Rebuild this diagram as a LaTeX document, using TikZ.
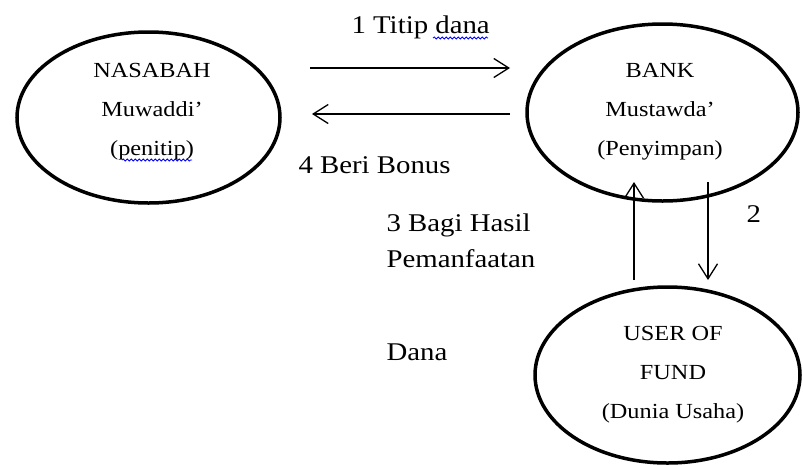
\documentclass[tikz,border=0pt]{standalone}
\usepackage{fontspec}
\setmainfont{Liberation Serif}[FakeStretch=1.13]
\usetikzlibrary{shapes.geometric, arrows.meta, decorations.pathmorphing}

\tikzset{
    party/.style={draw, ellipse, line width=3.5pt, inner sep=0pt},
    partytext/.style={align=center, font=\fontsize{21.5}{39}\selectfont},
    flowtext/.style={anchor=base west, font=\fontsize{25.5}{30}\selectfont},
    flow/.style={-{Straight Barb[length=15pt, width=19pt]}, line width=1.3pt},
    spell/.style={blue, line width=0.8pt, decorate,
        decoration={snake, amplitude=1pt, segment length=4pt}}
}

\begin{document}
\begin{tikzpicture}[x=1pt, y=-1pt]
    \useasboundingbox (0 , 0) rectangle (803 , 464);
    % parties
    \node[party, minimum width=263pt, minimum height=171pt] (nasabah) at (148.5 , 117.5) {};
    \node[party, minimum width=271pt, minimum height=177pt] (bank) at (662.5 , 112.5) {};
    \node[party, minimum width=265pt, minimum height=176pt] (user) at (667.5 , 375) {};
    \node[partytext] (nasabahtxt) at (152 , 112) {NASABAH\\Muwaddi'\\(penitip)};
    \node[partytext] (banktxt) at (660 , 112) {BANK\\Mustawda'\\(Penyimpan)};
    \node[partytext] (usertxt) at (673 , 375) {USER OF\\FUND\\(Dunia Usaha)};
    % arrow ends
    \coordinate (titipA) at (310 , 68);
    \coordinate (titipB) at (510 , 68);
    \coordinate (bonusA) at (510 , 114);
    \coordinate (bonusB) at (312 , 114);
    \coordinate (hasilA) at (634 , 280);
    \coordinate (hasilB) at (634 , 182);
    \coordinate (danaA) at (708 , 182);
    \coordinate (danaB) at (708 , 280);
    \draw[flow] (titipA) -- (titipB); % 1
    \draw[flow] (bonusA) -- (bonusB); % 4
    \draw[flow] (hasilA) -- (hasilB); % 3
    \draw[flow] (danaA) -- (danaB); % 2
    % labels
    \node[flowtext] (titip) at (348 , 33) {1 Titip dana};
    \node[flowtext] (bonus) at (295 , 173) {4 Beri Bonus};
    \node[flowtext] (bagi) at (383 , 231) {3 Bagi Hasil};
    \node[flowtext] (manfaat) at (383 , 267) {Pemanfaatan};
    \node[flowtext] (dana) at (383 , 360) {Dana};
    \node[flowtext] (dua) at (743 , 222) {2};
    % spell check marks
    \draw[spell] (433 , 38) -- (488 , 38);
    \draw[spell] (122 , 160) -- (192 , 160);
\end{tikzpicture}
\end{document}
